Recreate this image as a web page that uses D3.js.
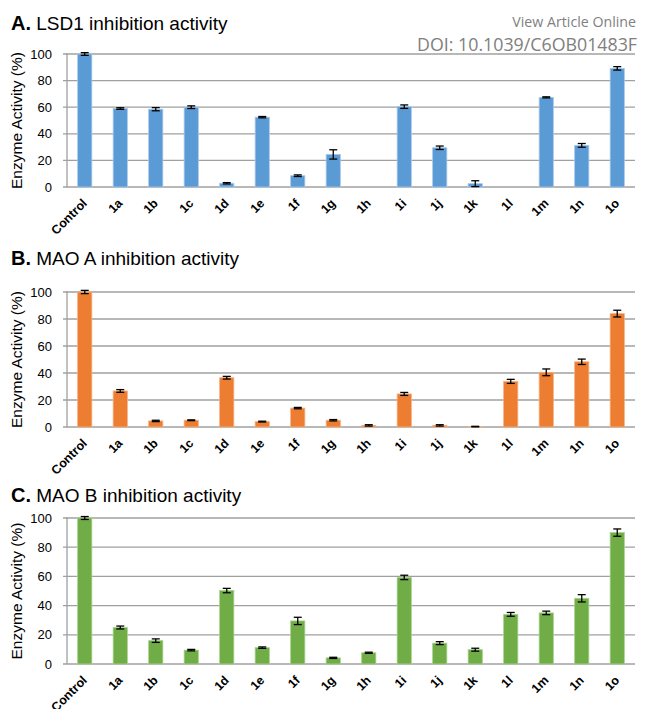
<!DOCTYPE html>
<html>
<head>
<meta charset="utf-8">
<script src="https://cdn.jsdelivr.net/npm/d3@7"></script>
<style>
  body { margin: 0; background: #fff; }
  svg { display: block; font-family: "Liberation Sans", Arial, sans-serif; }
</style>
</head>
<body>
<div id="chart"></div>
<script>
const categories = ["Control", "1a", "1b", "1c", "1d", "1e", "1f", "1g", "1h", "1i", "1j", "1k", "1l", "1m", "1n", "1o"];
const yTicks = [0, 20, 40, 60, 80, 100];

const lsd1Values = [100, 59, 58.5, 60, 2.8, 52.5, 8.5, 24.5, 0, 60.4, 29.5, 2.5, 0, 67.4, 31.3, 89.2];
const lsd1Errors = [1, 0.6, 1.2, 1, 0.5, 0.5, 0.6, 3.5, 0, 1.3, 1.3, 2.2, 0, 0.4, 1.4, 1.3];

const maoAValues = [100, 26.7, 4.5, 5, 36.5, 4, 14, 5, 1.2, 24.5, 1.2, 0.3, 33.8, 40.5, 48.3, 84];
const maoAErrors = [1.2, 1, 0.5, 0.3, 1, 0.3, 0.5, 0.5, 0.5, 1.1, 0.5, 0.2, 1.5, 2.5, 2, 2.5];

const maoBValues = [100, 25, 16, 9.5, 50.3, 11.2, 29.5, 4.2, 7.7, 59.3, 14.3, 9.8, 34, 35, 45, 90];
const maoBErrors = [1, 1, 1.2, 0.5, 1.5, 0.5, 2.5, 0.4, 0.4, 1.5, 1, 1, 1.3, 1.2, 2.5, 2.5];

const panels = [
    {letter: "A.", title: "LSD1 inhibition activity", values: lsd1Values, errors: lsd1Errors,
     color: "#5b9bd5", edge: "#a9c9ea", titleY: 30, top: 54, bottom: 187},
    {letter: "B.", title: "MAO A inhibition activity", values: maoAValues, errors: maoAErrors,
     color: "#ed7d31", edge: "#f5b183", titleY: 265, top: 292, bottom: 427},
    {letter: "C.", title: "MAO B inhibition activity", values: maoBValues, errors: maoBErrors,
     color: "#70ad47", edge: "#a9d18e", titleY: 502, top: 518, bottom: 664}
];

const width = 651;
const height = 709;
const left = 67;
const right = 635;

const svg = d3.select("#chart").append("svg")
    .attr("width", width)
    .attr("height", height)
    .attr("viewBox", [0, 0, width, height]);

const x = d3.scaleBand()
    .domain(categories)
    .range([left, right])
    .paddingInner(0.6)
    .paddingOuter(0.3);

function drawPanel(p) {
    const y = d3.scaleLinear()
        .domain([0, 100])
        .range([p.bottom, p.top]);

    const g = svg.append("g");

    // gridlines
    g.append("g")
        .selectAll("line")
        .data(yTicks)
        .join("line")
        .attr("x1", left - 4)
        .attr("x2", right)
        .attr("y1", d => y(d))
        .attr("y2", d => y(d))
        .attr("stroke", "#a0a0a0")
        .attr("stroke-width", 1.3);

    g.append("line")
        .attr("x1", left).attr("x2", left)
        .attr("y1", y(100) - 1).attr("y2", y(0))
        .attr("stroke", "#a0a0a0")
        .attr("stroke-width", 1.3);

    // y axis labels
    g.append("g")
        .call(d3.axisLeft(y).tickValues(yTicks).tickSize(0).tickPadding(15))
        .attr("transform", `translate(${left},0)`)
        .call(g => g.select(".domain").remove())
        .call(g => g.selectAll("text")
            .attr("font-family", "Liberation Sans, Arial, sans-serif")
            .attr("font-size", 13)
            .attr("fill", "#000"));

    g.append("text")
        .attr("transform", `translate(22,${(p.top + p.bottom) / 2}) rotate(-90)`)
        .attr("text-anchor", "middle")
        .attr("font-size", 15.5)
        .text("Enzyme Activity (%)");

    // bars
    g.append("g")
        .selectAll("rect")
        .data(p.values)
        .join("rect")
        .attr("x", (d, i) => x(categories[i]))
        .attr("y", d => y(d))
        .attr("width", x.bandwidth())
        .attr("height", d => y(0) - y(d))
        .attr("fill", p.color)
        .attr("stroke", p.edge)
        .attr("stroke-width", 0.8);

    // error bars
    const eb = g.append("g")
        .attr("stroke", "#000")
        .attr("stroke-width", 1.3)
        .selectAll("g")
        .data(p.values.map((v, i) => ({v, e: p.errors[i], c: categories[i]})).filter(d => d.v > 0))
        .join("g")
        .attr("transform", d => `translate(${x(d.c) + x.bandwidth() / 2},0)`);
    eb.append("line")
        .attr("y1", d => y(d.v + d.e)).attr("y2", d => y(d.v - d.e));
    eb.append("line")
        .attr("x1", -4).attr("x2", 4)
        .attr("y1", d => y(d.v + d.e)).attr("y2", d => y(d.v + d.e));
    eb.append("line")
        .attr("x1", -4).attr("x2", 4)
        .attr("y1", d => y(d.v - d.e)).attr("y2", d => y(d.v - d.e));

    // x labels
    g.append("g")
        .selectAll("text")
        .data(categories)
        .join("text")
        .attr("transform", d => `translate(${x(d) + x.bandwidth() / 2 + 3},${p.bottom + 17}) rotate(-45)`)
        .attr("text-anchor", "end")
        .attr("font-size", 12.5)
        .attr("font-weight", "bold")
        .text(d => d);

    // title
    const t = svg.append("text")
        .attr("x", 11)
        .attr("y", p.titleY);
    t.append("tspan")
        .attr("font-weight", "bold")
        .attr("font-size", 20)
        .text(p.letter);
    t.append("tspan")
        .attr("font-size", 19)
        .text(" " + p.title);
}

panels.forEach(drawPanel);

// watermark
svg.append("text")
    .attr("x", 636).attr("y", 27)
    .attr("text-anchor", "end")
    .attr("font-family", "Open Sans, sans-serif")
    .attr("font-size", 14.2)
    .attr("fill", "#808080")
    .text("View Article Online");
svg.append("text")
    .attr("x", 637).attr("y", 51)
    .attr("text-anchor", "end")
    .attr("font-family", "Open Sans, sans-serif")
    .attr("font-size", 17.8)
    .attr("fill", "#808080")
    .text("DOI: 10.1039/C6OB01483F");
</script>
</body>
</html>
